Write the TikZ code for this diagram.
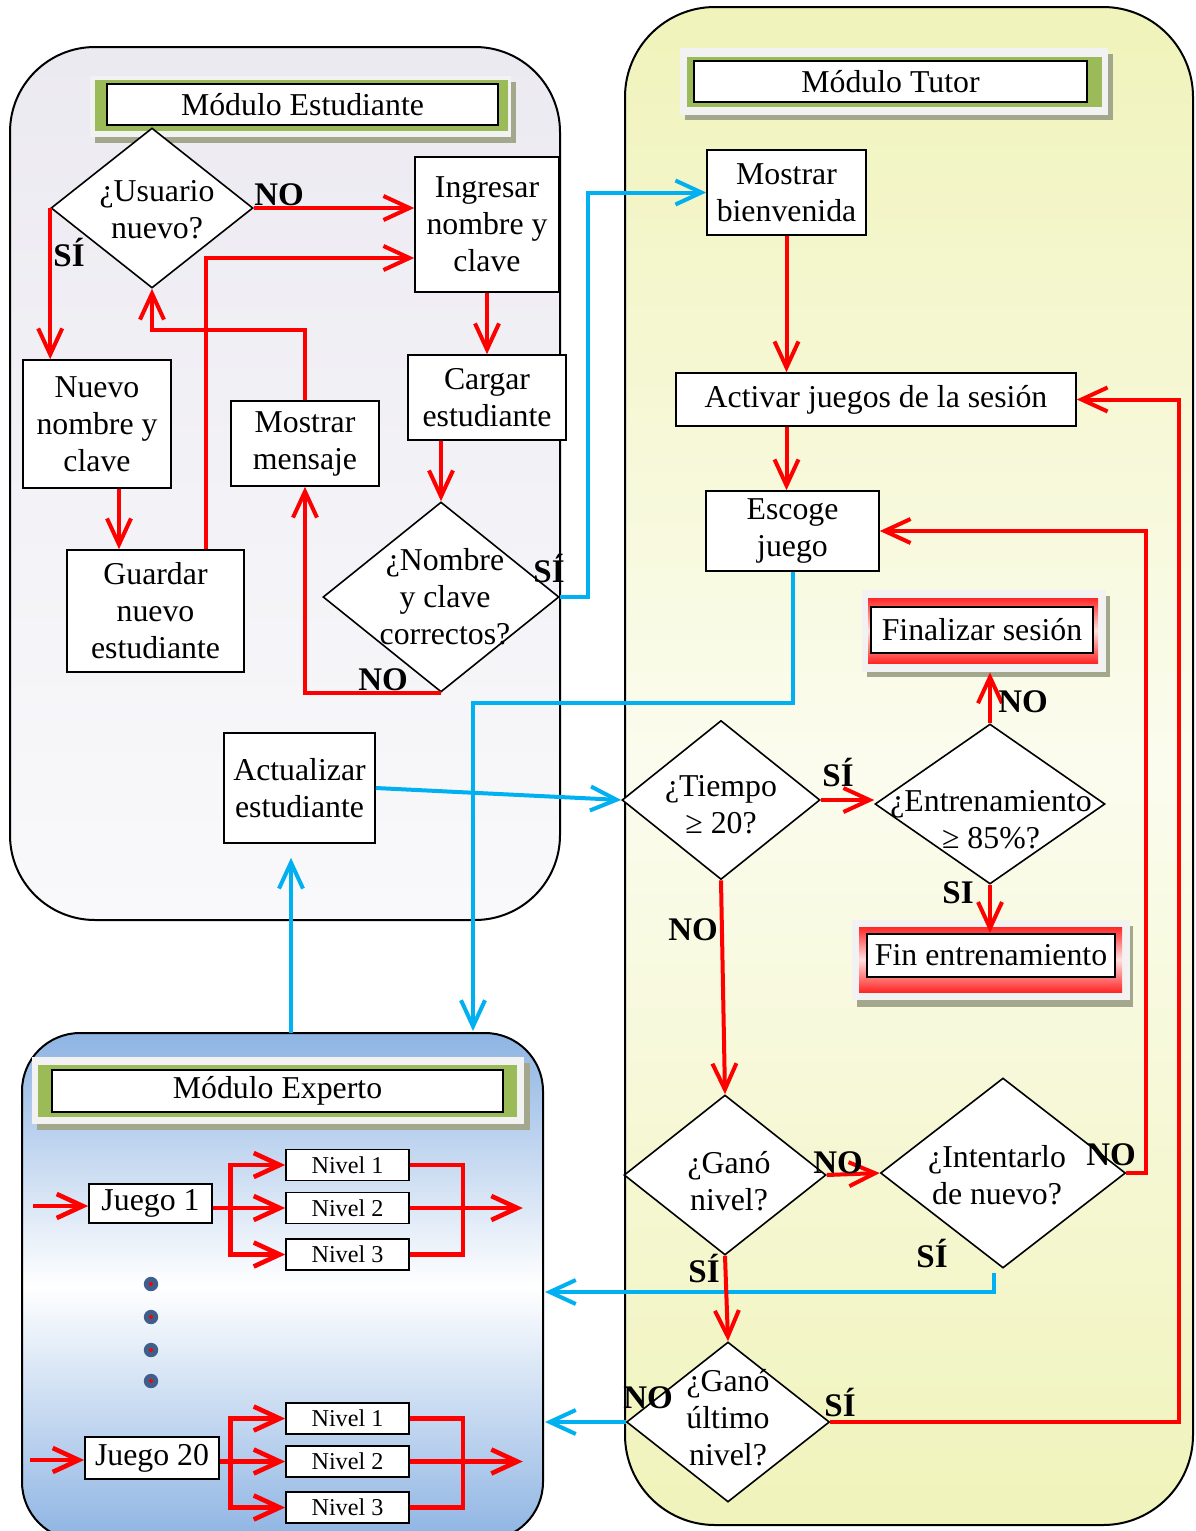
\documentclass[tikz,border=0pt]{standalone}
\usepackage{fontspec}
\setmainfont{Liberation Serif}
\usetikzlibrary{shapes.geometric,arrows.meta,calc}
\definecolor{arrred}{HTML}{FF0000}
\definecolor{arrblue}{HTML}{00B0F0}
\definecolor{stuTop}{HTML}{ECEAF1}
\definecolor{stuBot}{HTML}{F9F9FB}
\definecolor{tutY}{HTML}{F0F3BA}
\definecolor{tutW}{HTML}{FBFCEE}
\definecolor{expB}{HTML}{8EB4E3}
\definecolor{hdrGreen}{HTML}{9BBB59}
\definecolor{hdrFrame}{HTML}{F2F2F2}
\definecolor{hdrShadow}{HTML}{A3A88C}
\definecolor{dotBlue}{HTML}{3E5F8C}
\newcommand\msz{\fontsize{15.9}{18.5}\selectfont}
\newcommand\nsz{\fontsize{12.1}{14}\selectfont}
\newcommand\lsz{\fontsize{16.5}{18}\selectfont\bfseries}
\begin{document}
\begin{tikzpicture}[x=0.5pt,y=-0.5pt,
  box/.style={draw=black,line width=0.8pt,fill=white,inner sep=0pt,align=center,font=\msz},
  dia/.style={diamond,draw=black,line width=0.8pt,fill=white,inner sep=0pt},
  dtext/.style={align=center,font=\msz,inner sep=0pt},
  hdr/.style={draw=black,line width=1.2pt,fill=white,inner sep=0pt,font=\msz},
  frm/.style={fill=hdrFrame,inner sep=0pt},
  nivel/.style={draw=black,line width=0.8pt,fill=white,inner sep=0pt,font=\nsz,minimum width=61.5pt,minimum height=15.5pt},
  arrtip/.style={-{Straight Barb[length=13pt,width=12pt]}},
  rarr/.style={draw=arrred,line width=2pt,arrtip},
  barr/.style={draw=arrblue,line width=2pt,arrtip},
  earr/.style={draw=arrred,line width=2.3pt,arrtip},
  rline/.style={draw=arrred,line width=2.3pt},
  lbl/.style={font=\lsz,inner sep=0pt},
]
\useasboundingbox (0,0) rectangle (1195,1531);
\fill[white] (0,0) rectangle (1195,1531);

% ---------- module backgrounds ----------
\draw[line width=1pt,rounded corners=42.5pt,top color=stuTop,bottom color=stuBot] (10,47) rectangle (560,920);
\draw[line width=1pt,rounded corners=45pt,top color=tutY,bottom color=tutY,middle color=tutW] (625,7) rectangle (1193,1525);
\draw[line width=1pt,rounded corners=29pt,top color=expB,bottom color=expB,middle color=white] (22,1033) rectangle (543,1540);

% ---------- headers ----------
\fill[hdrShadow] (95,82) rectangle (516,143);
\fill[hdrFrame] (90,76) rectangle (511,137);
\fill[hdrGreen] (95,80) rectangle (508,131);
\node[hdr,minimum width=195.5pt,minimum height=20.5pt] (hdrS) at (302.5,104.5) {Módulo Estudiante};

\fill[hdrShadow] (685,54) rectangle (1113,120);
\fill[hdrFrame] (680,48) rectangle (1108,115);
\fill[hdrGreen] (687,57) rectangle (1102,107);
\node[hdr,minimum width=196.5pt,minimum height=20.5pt] (hdrT) at (890.5,81.5) {Módulo Tutor};

\fill[hdrShadow] (37,1063) rectangle (530,1130);
\fill[hdrFrame] (32,1057) rectangle (524,1124);
\fill[hdrGreen] (38,1065) rectangle (517,1117);
\node[hdr,minimum width=225.5pt,minimum height=21pt] (hdrE) at (277.5,1091) {Módulo Experto};

\fill[hdrShadow] (867,596) rectangle (1110,677);
\node[frm,minimum width=122pt,minimum height=41pt] (finFrame) at (984,631) {};
\shade[top color=red!85,bottom color=red!85,middle color=red!12] (868,598) rectangle (1098,663);
\node[hdr,minimum width=111pt,minimum height=23pt] (finses) at (982,630) {Finalizar sesión};

\fill[hdrShadow] (857,926) rectangle (1133,1007);
\node[frm,minimum width=139pt,minimum height=40pt] (fitFrame) at (991,960) {};
\shade[top color=red!85,bottom color=red!85,middle color=red!12] (859,927) rectangle (1122,992);
\node[hdr,minimum width=124pt,minimum height=21.5pt] (fintr) at (991,955.5) {Fin entrenamiento};

% ---------- student module nodes ----------
\node[box,minimum width=72pt,minimum height=67.5pt] (ingresar) at (487,224.5) {Ingresar\\nombre y\\clave};
\node[box,minimum width=74pt,minimum height=64pt] (nuevo) at (97,424) {Nuevo\\nombre y\\clave};
\node[box,minimum width=74pt,minimum height=42.5pt] (mostrarm) at (305,443.5) {Mostrar\\mensaje};
\node[box,minimum width=79pt,minimum height=42.5pt] (cargar) at (487,397.5) {Cargar\\estudiante};
\node[box,minimum width=88.5pt,minimum height=61pt] (guardar) at (155.5,611) {Guardar\\nuevo\\estudiante};
\node[box,minimum width=75.5pt,minimum height=55pt] (actual) at (299.5,788) {Actualizar\\estudiante};
\node[dia,minimum width=101pt,minimum height=80pt] (usu) at (152,208) {};
\node[dtext] (usuT) at (157,210) {¿Usuario\\nuevo?};
\node[dia,minimum width=118pt,minimum height=95pt] (nombre) at (441,597) {};
\node[dtext] (nomT) at (445,597) {¿Nombre\\y clave\\correctos?};

% ---------- tutor module nodes ----------
\node[box,minimum width=79.5pt,minimum height=42.5pt] (bienv) at (786.5,192.5) {Mostrar\\bienvenida};
\node[box,minimum width=200pt,minimum height=26.5pt] (activar) at (876,399.5) {Activar juegos de la sesión};
\node[box,minimum width=86.5pt,minimum height=40pt] (escoge) at (792.5,531) {Escoge\\juego};
\node[dia,minimum width=99pt,minimum height=79.5pt] (tiempo) at (721,800) {};
\node[dtext] (tieT) at (721,805) {¿Tiempo\\≥ 20?};
\node[dia,minimum width=115pt,minimum height=80pt] (entren) at (990,804) {};
\node[dtext] (entT) at (991,820) {¿Entrenamiento\\≥ 85\%?};
\node[dia,minimum width=101pt,minimum height=80pt] (ganon) at (725,1175) {};
\node[dtext] (ganT) at (729,1181) {¿Ganó\\nivel?};
\node[dia,minimum width=122.5pt,minimum height=95pt] (intent) at (1003,1173) {};
\node[dtext] (intT) at (997,1175) {¿Intentarlo\\de nuevo?};
\node[dia,minimum width=101.5pt,minimum height=80pt] (ultimo) at (728,1422) {};
\node[dtext] (ultT) at (728,1418) {¿Ganó\\último\\nivel?};

% ---------- expert module nodes ----------
\node[box,minimum width=61.5pt,minimum height=19.5pt] (juego1) at (150.5,1203.5) {Juego 1};
\node[nivel] (n11) at (347.5,1165) {Nivel 1};
\node[nivel] (n12) at (347.5,1208) {Nivel 2};
\node[nivel] (n13) at (347.5,1254.5) {Nivel 3};
\node[box,minimum width=67pt,minimum height=21pt] (juego20) at (152,1458) {Juego 20};
\node[nivel] (n21) at (347.5,1418.5) {Nivel 1};
\node[nivel] (n22) at (347.5,1461.5) {Nivel 2};
\node[nivel] (n23) at (347.5,1507.5) {Nivel 3};
\foreach \yy in {1284,1317,1350,1381} {
  \fill[dotBlue] (151,\yy) circle (3.6pt);
  \fill[red] (151,\yy) circle (1pt);
}

\coordinate (j1in) at (33,1206);
\coordinate (j20in) at (30,1460);
\coordinate (expIn) at (473,1031);
\coordinate (expOut) at (291,1033);
\coordinate (expR1) at (545,1292);
\coordinate (expR2) at (545,1427);

% ---------- student connectors ----------
\draw[rarr] (usu.east) -- (ingresar.west |- usu.east);
\draw[rarr] (usu.west) -- (usu.west |- nuevo.north);
\draw[rarr] ($(nuevo.south)+(22,0)$) -- ($(nuevo.south |- guardar.north)+(22,0)$);
\draw[rarr] ($(guardar.north)+(50.5,0)$) |- ($(ingresar.west)+(0,33.5)$);
\draw[rarr] (ingresar.south) -- (cargar.north);
\draw[rarr] (nombre.north |- cargar.south) -- (nombre.north);
\draw[rarr] (nombre.south) -| (mostrarm.south);
\draw[rarr] (mostrarm.north) -- ++(0,-70) -| (usu.south);
\draw[barr] (nombre.east) -- ++(28,0) |- (bienv.west);

% ---------- tutor connectors ----------
\draw[rarr] (bienv.south) -- (bienv.south |- activar.north);
\draw[rarr] (bienv.south |- activar.south) -- (bienv.south |- escoge.north);
\draw[barr] (escoge.south) -- ++(0,131) -| (expIn);
\draw[barr] (actual.east) -- (tiempo.west);
\draw[barr] (expOut) -- ($(expOut |- actual.south)+(0,14)$);
\draw[rarr] (tiempo.east) -- (entren.west |- tiempo.east);
\draw[rarr] (entren.north) -- (entren.north |- finFrame.south);
\draw[rarr] (entren.south) -- (entren.south |- fintr.north);
\draw[rarr] (tiempo.south) -- (ganon.north);
\draw[rarr] (ganon.east) -- (intent.west);
\draw[rarr] (intent.east) -- ++(20,0) |- (escoge.east);
\draw[barr] ($(intent.south)+(-9,4)$) |- (expR1);
\draw[rarr] (ganon.south) -- (ultimo.north);
\draw[rarr] (ultimo.east) -- ++(349,0) |- (activar.east);
\draw[barr] (ultimo.west) -- (expR2 |- ultimo.west);

% ---------- expert connectors ----------
\draw[earr] (j1in) -- (juego1.west |- j1in);
\draw[earr] (juego1.east |- n12.west) -- (n12.west);
\draw[earr] ($(n13.west)+(-55,0)$) |- (n11.west);
\draw[earr] ($(n11.west)+(-55,0)$) |- (n13.west);
\draw[rline] (n11.east) -| ($(n13.east)+(53,0)$) -- (n13.east);
\draw[earr] (n12.east) -- ++(113,0);

\draw[earr] (j20in) -- (juego20.west |- j20in);
\draw[earr] (juego20.east |- n22.west) -- (n22.west);
\draw[earr] ($(n23.west)+(-55,0)$) |- (n21.west);
\draw[earr] ($(n21.west)+(-55,0)$) |- (n23.west);
\draw[rline] (n21.east) -| ($(n23.east)+(53,0)$) -- (n23.east);
\draw[earr] (n22.east) -- ++(113,0);

% ---------- labels ----------
\node[lbl] (l1) at (279,195) {NO};
\node[lbl] (l2) at (69,253) {SÍ};
\node[lbl] (l3) at (549,568) {SÍ};
\node[lbl] (l4) at (383,680) {NO};
\node[lbl] (l5) at (838,772) {SÍ};
\node[lbl] (l6) at (1023,702) {NO};
\node[lbl] (l7) at (958,893) {SI};
\node[lbl] (l8) at (693,930) {NO};
\node[lbl] (l9) at (838,1163) {NO};
\node[lbl] (l10) at (1111,1155) {NO};
\node[lbl] (l11) at (932,1253) {SÍ};
\node[lbl] (l12) at (704,1268) {SÍ};
\node[lbl] (l13) at (840,1402) {SÍ};
\node[lbl] (l14) at (648,1398) {NO};
\end{tikzpicture}
\end{document}
